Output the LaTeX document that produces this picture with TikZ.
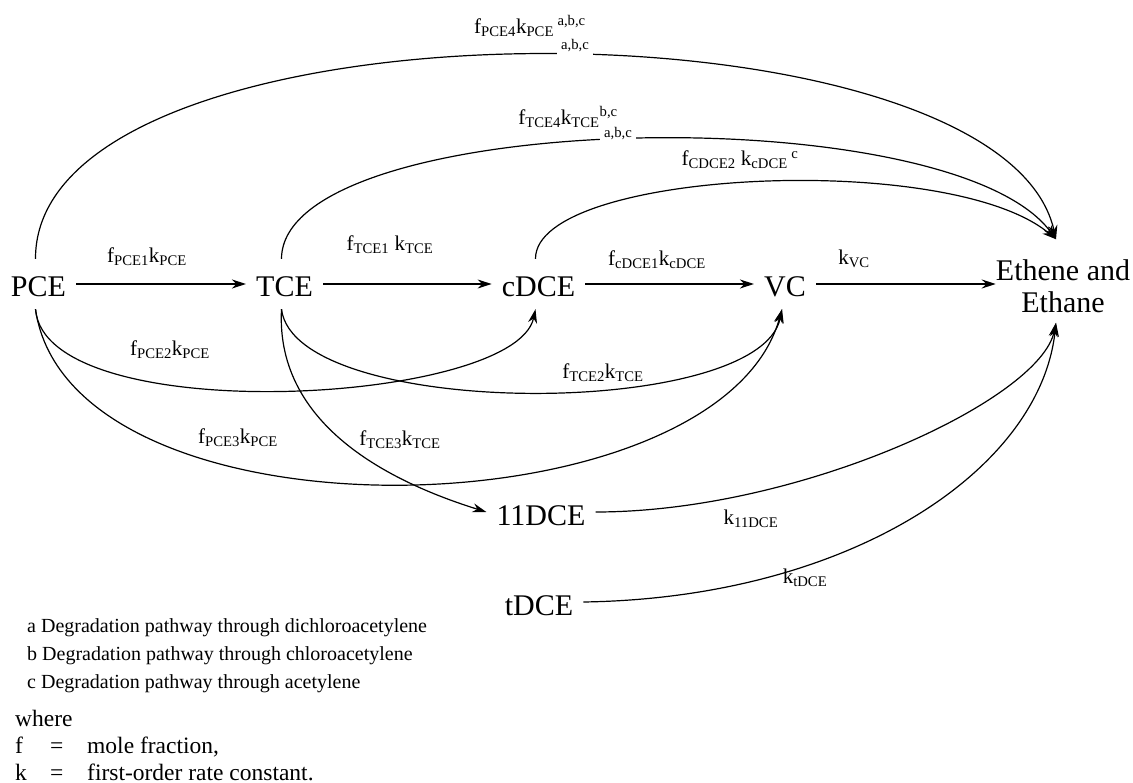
\documentclass[tikz,border=0pt]{standalone}
\usepackage{fontspec}
\setmainfont{Liberation Serif}
\usetikzlibrary{arrows.meta}

\tikzset{
  species/.style={font=\fontsize{30}{32}\selectfont, inner xsep=10pt, inner ysep=0pt,
                  text height=38pt, text depth=12pt},
  product/.style={font=\fontsize{30}{32}\selectfont, align=center, inner sep=0pt},
  rate/.style={font=\fontsize{21}{24}\selectfont, inner sep=0pt},
  gap/.style={font=\fontsize{14.7}{16}\selectfont, fill=white, anchor=base,
              inner xsep=4pt, inner ysep=1pt, text height=10pt, text depth=10pt},
  note/.style={font=\fontsize{20}{22}\selectfont, anchor=base west, inner sep=0pt},
  where/.style={font=\fontsize{23.5}{26}\selectfont, anchor=base west, inner sep=0pt},
  conv/.style={line width=1.2pt, -{Stealth[length=14pt,width=9pt]}},
  link/.style={line width=1.2pt}
}

\begin{document}
\begin{tikzpicture}[x=1pt,y=-1pt]
  \useasboundingbox (0,0) rectangle (1133,783);

  % species along the main chain
  \node[species] (PCE)  at (38.5,284) {PCE};
  \node[species] (TCE)  at (284.5,284) {TCE};
  \node[species] (cDCE) at (538.5,284) {cDCE};
  \node[species] (VC)   at (785,284) {VC};
  \node[product] (Eth)  at (1063,286) {Ethene and\\Ethane};
  \node[species] (DCEa) at (541,512) {11DCE};
  \node[species] (tDCE) at (539,602) {tDCE};

  \coordinate (EthTop) at ([shift={(-7,-20)}]Eth.north);
  \coordinate (EthBot) at ([shift={(-7,10)}]Eth.south);

  % sequential dechlorination
  \draw[conv] (PCE.east) -- (TCE.west);
  \draw[conv] (TCE.east) -- (cDCE.west);
  \draw[conv] (cDCE.east) -- (VC.west);
  \draw[conv] (VC.east) -- (VC.east -| Eth.west);

  % direct routes to ethene (over the top)
  \draw[conv] ([xshift=-3pt]PCE.north) .. controls (35,-10) and (1000,-10) .. (EthTop);
  \draw[conv] ([xshift=-3pt]TCE.north) .. controls (282,110) and (950,95) .. (EthTop);
  \draw[conv] ([xshift=-3pt]cDCE.north) .. controls (535,170) and (950,150) .. (EthTop);

  % routes underneath
  \draw[conv] ([xshift=-3pt]PCE.south) .. controls (45,430) and (515,405) .. ([xshift=-3pt]cDCE.south);
  \draw[conv] ([xshift=-3pt]PCE.south) .. controls (70,550) and (720,535) .. ([xshift=-3pt]VC.south);
  \draw[conv] ([xshift=-3pt]TCE.south) .. controls (295,420) and (760,420) .. ([xshift=-3pt]VC.south);
  \draw[conv] ([xshift=-3pt]TCE.south) .. controls (275,430) and (400,485) .. (DCEa.west);
  \draw[conv] (DCEa.east) .. controls (800,512) and (1040,400) .. (EthBot);
  \draw[conv] (tDCE.east) .. controls (850,598) and (1040,470) .. (EthBot);

  % rate labels
  \node[gap] (gPCE4) at (575,50) {a,b,c};
  \node[gap] (gTCE4) at (618,138) {a,b,c};
  \node[rate] (lPCE1)  at (147,257) {f\textsubscript{PCE1}k\textsubscript{PCE}};
  \node[rate] (lTCE1)  at (390,245) {f\textsubscript{TCE1} k\textsubscript{TCE}};
  \node[rate] (lcDCE1) at (657,260) {f\textsubscript{cDCE1}k\textsubscript{cDCE}};
  \node[rate] (lVC)    at (854,259) {k\textsubscript{VC}};
  \node[rate] (lPCE4)  at (530,26)  {f\textsubscript{PCE4}k\textsubscript{PCE}\,\textsuperscript{a,b,c}};
  \node[rate] (lTCE4)  at (568,117) {f\textsubscript{TCE4}k\textsubscript{TCE}\textsuperscript{b,c}};
  \node[rate] (lcDCE2) at (740,160) {f\textsubscript{CDCE2} k\textsubscript{cDCE}\,\textsuperscript{c}};
  \node[rate] (lPCE2)  at (170,350) {f\textsubscript{PCE2}k\textsubscript{PCE}};
  \node[rate] (lTCE2)  at (603,373) {f\textsubscript{TCE2}k\textsubscript{TCE}};
  \node[rate] (lPCE3)  at (238,438) {f\textsubscript{PCE3}k\textsubscript{PCE}};
  \node[rate] (lTCE3)  at (400,440) {f\textsubscript{TCE3}k\textsubscript{TCE}};
  \node[rate] (l11DCE) at (751,519) {k\textsubscript{11DCE}};
  \node[rate] (ltDCE)  at (805,578) {k\textsubscript{tDCE}};

  % footnotes
  \foreach \l/\t [count=\i] in {a/dichloroacetylene, b/chloroacetylene, c/acetylene}
    \node[note] (note\l) at (27,{604+28*\i}) {\l\ Degradation pathway through \t};
  \node[where] (where) at (15,726) {where};
  \foreach \s/\d [count=\i] in {f/{mole fraction,}, k/{first-order rate constant.}}{
    \node[where] (sym\s) at (15,{726+27*\i}) {\s};
    \node[where] (eq\s)  at (50,{726+27*\i}) {=};
    \node[where] (def\s) at (87,{726+27*\i}) {\d};
  }
\end{tikzpicture}
\end{document}
